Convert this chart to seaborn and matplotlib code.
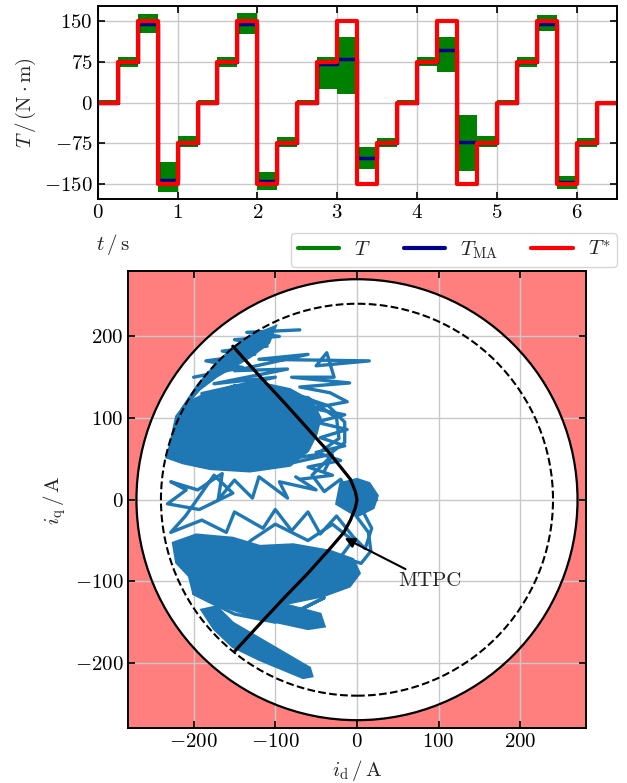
import matplotlib
matplotlib.use('Agg')
import matplotlib.pyplot as plt
from matplotlib.patches import Circle
from matplotlib.lines import Line2D
import pandas as pd
import seaborn as sns

# torque steps (one value per 0.25 s segment)
t_start = [0.0, 0.25, 0.5, 0.75, 1.0, 1.25, 1.5, 1.75, 2.0, 2.25, 2.5, 2.75, 3.0,
           3.25, 3.5, 3.75, 4.0, 4.25, 4.5, 4.75, 5.0, 5.25, 5.5, 5.75, 6.0, 6.25]
t_end = 6.5
T_ref = [0, 75, 150, -150, -75, 0, 75, 150, -150, -75, 0, 75, 150,
         -150, -75, 0, 75, 150, -150, -75, 0, 75, 150, -150, -75, 0]
T_ma = [0, 75, 145, -142, -75, 0, 75, 145, -145, -75, 0, 72, 80,
        -102, -75, 0, 75, 97, -73, -74, 0, 75, 144, -147, -75, 0]
T_hi = [5, 84, 164, -109, -62, 5, 84, 166, -127, -63, 5, 85, 121,
        -81, -65, 5, 84, 121, -23, -62, 5, 85, 161, -135, -65, 2]
T_lo = [-5, 65, 129, -164, -81, -5, 65, 126, -160, -82, -5, 25, 16,
        -122, -82, -5, 67, 56, -125, -82, -5, 65, 132, -159, -82, -2]

# current plane
r_max = 270
r_lim = 240
mtpc_id = [-152, -118, -90, -63, -37, -20, -8, -2, 0, -2, -8, -16, -34, -60, -89, -117, -150]
mtpc_iq = [188, 150, 120, 90, 61, 40, 25, 10, 0, -10, -25, -40, -61, -90, -120, -150, -186]

blob_up_id = [-229, -221, -209, -188, -152, -119, -82, -55, -45, -50, -60, -82, -131, -180, -213, -233]
blob_up_iq = [65, 102, 118, 128, 139, 143, 135, 120, 100, 80, 60, 42, 35, 38, 45, 52]
wedge_id = [-215, -195, -175, -152, -130, -100, -108, -131, -172, -193]
wedge_iq = [110, 140, 163, 186, 200, 212, 192, 175, 151, 135]
blob_lo_id = [-225, -197, -152, -119, -78, -33, -5, 3, -9, -42, -91, -131, -172, -201, -221]
blob_lo_iq = [-53, -43, -47, -57, -55, -63, -73, -90, -106, -118, -128, -122, -114, -98, -77]
band_lo_id = [-205, -150, -90, -45, -40, -60, -120, -180, -200]
band_lo_iq = [-95, -110, -128, -140, -155, -158, -145, -125, -115]
tail_id = [-190, -172, -152, -111, -58, -55, -66, -119, -152, -175]
tail_iq = [-135, -131, -151, -175, -206, -216, -218, -196, -180, -158]
core_id = [-20, 0, 15, 25, 20, 0, -25]
core_iq = [20, 25, 20, 5, -10, -20, -5]

# scribbled trajectory pieces
path_a_id = [-190, -100, -175, -85, -150, -60, -120, 15, -50, -37, -28, -80, -9, -70, -33,
             -12, -55, -15, -50, -12, -45, -15, -50, -20, -60, -30, -70]
path_a_iq = [130, 150, 142, 160, 158, 178, 172, 170, 164, 180, 150, 150, 143, 138, 131,
             120, 112, 104, 95, 86, 76, 66, 58, 48, 40, 30, 25]
path_b_id = [-75, -50, -95, -85, -120, -128, -150, -170, -165, -195, -228, -209, -232, -193,
             -152, -175, -210, -228, -190, -160, -150, -115, -100, -80, -60, -45, -25, -5,
             10, 18, 5, 24, 10, -10, -20, -40, -55, -30, -40]
path_b_iq = [28, 12, 22, 2, 28, 2, 24, 0, 32, 12, 22, 12, -5, -12,
             8, 30, -20, -40, -25, -40, -15, -35, -12, -38, -15, -42, -20, -45,
             -60, -35, -10, 0, 15, 5, 25, 10, 30, 55, 35]
path_c_id = [-150, -80, -35, -15, -15, -35, -80, -130, -140, -60, -25, -22, -50, -100]
path_c_iq = [140, 130, 115, 95, 70, 55, 45, 40, 135, 125, 100, 75, 55, 48]
path_d_id = [-1, 14, 17, 5, -20, -5, -30, -60, -100, -130, -200, -150, -100, -70, -40, -90]
path_d_iq = [-20, -40, -63, -78, -70, -50, -30, -50, -30, -50, -115, -140, -150, -135, -120, -145]
path_e_id = [-200, -140, -185, -125, -165, -110, -150, -95, -135, -70]
path_e_iq = [150, 162, 170, 178, 182, 188, 196, 200, 205, 208]

sns.set_style('ticks')
plt.rcParams.update({
    'font.family': ['cmr10'],
    'mathtext.fontset': 'cm',
    'axes.formatter.use_mathtext': True,
    'font.size': 15,
    'xtick.labelsize': 15, 'ytick.labelsize': 15,
    'xtick.direction': 'in', 'ytick.direction': 'in',
    'xtick.top': True, 'ytick.right': True,
    'xtick.major.size': 5, 'ytick.major.size': 5,
    'xtick.major.width': 1.2, 'ytick.major.width': 1.2,
    'axes.linewidth': 1.4, 'axes.edgecolor': 'black',
    'xtick.color': 'black', 'ytick.color': 'black',
})

fig = plt.figure(figsize=(6.27, 7.83), dpi=100)
ax1 = fig.add_axes([0.1558, 0.7455, 0.8278, 0.2468])
ax2 = fig.add_axes([0.2046, 0.0698, 0.7295, 0.5840])

# ---- torque over time
t_edges = t_start + [t_end]
steps = pd.DataFrame({
    't': t_edges,
    'ref': T_ref + [T_ref[-1]],
    'ma': T_ma + [T_ma[-1]],
    'hi': T_hi + [T_hi[-1]],
    'lo': T_lo + [T_lo[-1]],
})
ax1.grid(True, color='#c8c8c8', lw=1)
ax1.fill_between(steps['t'], steps['lo'], steps['hi'], step='post', color='green', lw=0)
sns.lineplot(data=steps, x='t', y='ma', drawstyle='steps-post', color='darkblue', lw=2.5, ax=ax1)
sns.lineplot(data=steps, x='t', y='ref', drawstyle='steps-post', color='red', lw=3, ax=ax1)
ax1.set_xlim(0, 6.5)
ax1.set_ylim(-178, 178)
ax1.set_xticks([0, 1, 2, 3, 4, 5, 6])
ax1.set_yticks([-150, -75, 0, 75, 150])
ax1.set_xlabel(r'$t\,/\,\mathrm{s}$', fontsize=15)
ax1.xaxis.set_label_coords(0.03, -0.17)
ax1.set_ylabel(r'$T\,/\,(\mathrm{N}\cdot\mathrm{m})$', fontsize=15)
ax1.yaxis.set_label_coords(-0.115, 0.5)
handles = [Line2D([], [], color='green', lw=3),
           Line2D([], [], color='darkblue', lw=3),
           Line2D([], [], color='red', lw=3)]
ax1.legend(handles, [r'$T$', r'$T_\mathrm{MA}$', r'$T^{*}$'], ncol=3, loc='upper right',
           bbox_to_anchor=(1.0, -0.174), borderaxespad=0, fontsize=15,
           handlelength=2.0, columnspacing=1.6, handletextpad=0.7, frameon=True,
           borderpad=0.3)

# ---- current plane
ax2.set_facecolor('#ff7f7f')
ax2.set_axisbelow('line')
ax2.grid(True, color='#c8c8c8', lw=1)
ax2.add_patch(Circle((0, 0), r_max, facecolor='white', edgecolor='none', zorder=1))
for bx, by in [(blob_up_id, blob_up_iq), (wedge_id, wedge_iq), (blob_lo_id, blob_lo_iq),
               (band_lo_id, band_lo_iq), (tail_id, tail_iq), (core_id, core_iq)]:
    ax2.fill(bx, by, color='#1f77b4', lw=2, zorder=2)
parts = []
for name, px, py in [('a', path_a_id, path_a_iq), ('b', path_b_id, path_b_iq),
                     ('c', path_c_id, path_c_iq), ('d', path_d_id, path_d_iq),
                     ('e', path_e_id, path_e_iq)]:
    parts.append(pd.DataFrame({'id': px, 'iq': py, 'part': name}))
traj = pd.concat(parts, ignore_index=True)
sns.lineplot(data=traj, x='id', y='iq', units='part', sort=False, estimator=None,
             color='#1f77b4', lw=2.4, ax=ax2, zorder=2)
mtpc = pd.DataFrame({'id': mtpc_id, 'iq': mtpc_iq})
sns.lineplot(data=mtpc, x='id', y='iq', sort=False, estimator=None, color='black',
             lw=2.3, ax=ax2, zorder=3)
ax2.add_patch(Circle((0, 0), r_max, fill=False, edgecolor='black', lw=1.6, zorder=3))
ax2.add_patch(Circle((0, 0), r_lim, fill=False, edgecolor='black', lw=1.5, ls='--', zorder=3))
ax2.annotate('MTPC', xy=(-15, -47), xytext=(50, -100), va='center', ha='left', fontsize=15,
             arrowprops=dict(arrowstyle='-|>', color='black', lw=1.5, shrinkA=0, shrinkB=0),
             zorder=4)
ax2.set_xlim(-280, 280)
ax2.set_ylim(-280, 280)
ax2.set_xticks([-200, -100, 0, 100, 200])
ax2.set_yticks([-200, -100, 0, 100, 200])
ax2.set_xlabel(r'$i_\mathrm{d}\,/\,\mathrm{A}$', fontsize=15)
ax2.xaxis.set_label_coords(0.5, -0.064)
ax2.set_ylabel(r'$i_\mathrm{q}\,/\,\mathrm{A}$', fontsize=15)
ax2.yaxis.set_label_coords(-0.132, 0.5)

fig.savefig('out.png', dpi=100)
